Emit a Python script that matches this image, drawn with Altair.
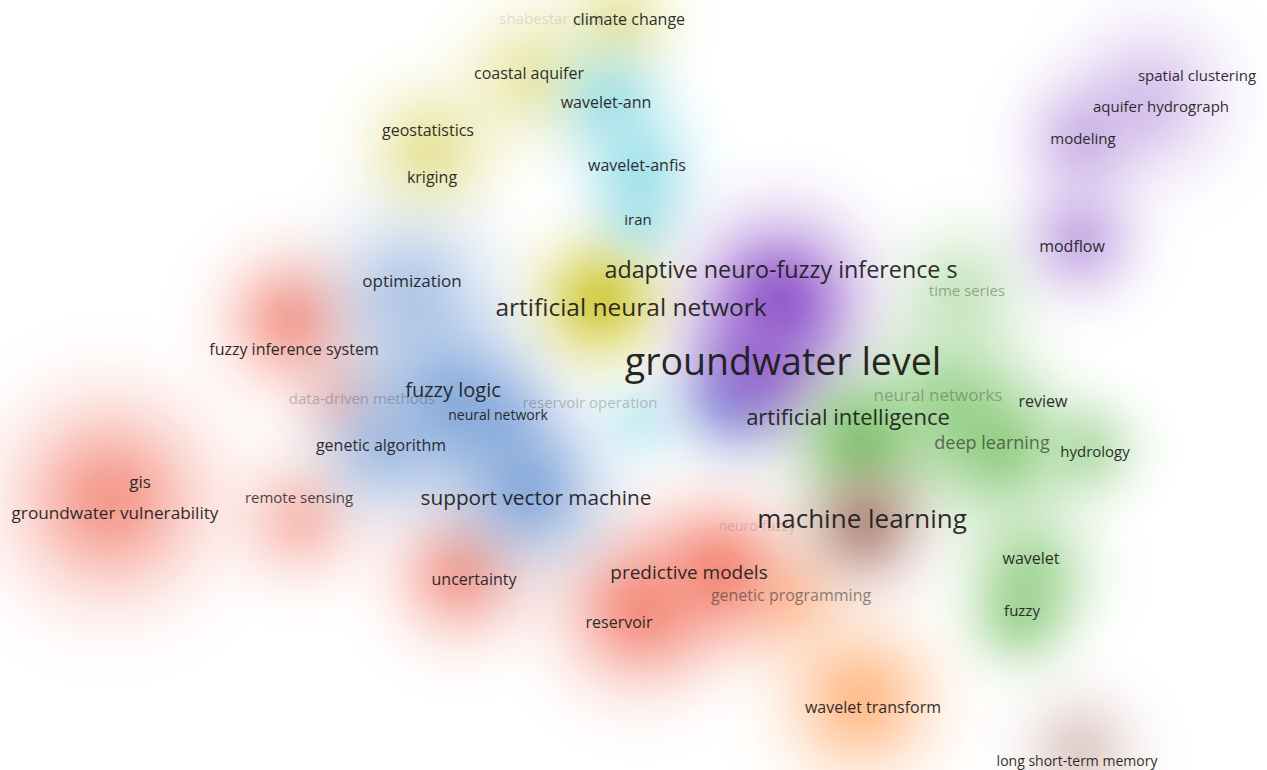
import altair as alt
import pandas as pd

W, H = 1267, 770

# ---- keyword labels ----
labels = ["shabestar plain", "climate change", "coastal aquifer", "wavelet-ann", "geostatistics",
          "kriging", "wavelet-anfis", "iran", "spatial clustering", "aquifer hydrograph",
          "modeling", "modflow", "adaptive neuro-fuzzy inference s", "time series", "optimization",
          "artificial neural network", "fuzzy inference system", "groundwater level", "fuzzy logic",
          "data-driven methods", "reservoir operation", "neural network", "neural networks", "review",
          "artificial intelligence", "deep learning", "hydrology", "genetic algorithm", "gis",
          "groundwater vulnerability", "remote sensing", "support vector machine", "neuro-fuzzy",
          "machine learning", "wavelet", "uncertainty", "predictive models", "genetic programming",
          "reservoir", "fuzzy", "wavelet transform", "long short-term memory"]
label_x = [553, 629, 529, 606, 428, 432, 637, 638, 1197, 1161, 1083, 1072, 781, 967, 412,
           631, 294, 783, 453, 362, 590, 498, 938, 1043, 848, 992, 1095, 381, 140,
           115, 299, 536, 757, 862, 1031, 474, 689, 791, 619, 1022, 873, 1077]
label_y = [19, 20, 74, 103, 131, 178, 166, 220, 76, 107, 139, 247, 271, 291, 282,
           309, 350, 364, 391, 399, 403, 416, 396, 402, 418, 444, 452, 446, 483,
           514, 498, 499, 527, 520, 559, 580, 573, 596, 623, 611, 708, 762]
label_size = [15, 16, 16, 16, 16, 16, 16, 15, 15, 15, 15, 16, 23.3, 15, 17,
              24.5, 16, 37.5, 20, 15, 15, 14, 17, 16, 22, 18, 15, 16, 17,
              17.2, 15, 20.8, 14, 26, 16, 16, 19, 16, 16, 15, 16, 14]
label_alpha = [0.12, 0.92, 0.92, 0.92, 0.92, 0.92, 0.92, 0.92, 0.92, 0.92, 0.92, 0.92, 0.92, 0.35, 0.92,
               0.92, 0.92, 0.95, 0.92, 0.25, 0.25, 0.92, 0.3, 0.92, 0.92, 0.6, 0.92, 0.92, 0.92,
               0.92, 0.8, 0.92, 0.15, 0.92, 0.92, 0.92, 0.92, 0.5, 0.92, 0.92, 0.92, 0.92]

# ---- density blobs ----
blob_cluster = ["red", "red", "red", "red", "red", "red", "red",
                "blue", "blue", "blue", "blue", "blue", "blue",
                "yellow", "yellow", "yellow", "yellow",
                "cyan", "cyan", "cyan", "cyan",
                "purple", "purple", "purple", "purple", "purple",
                "green", "green", "green", "green", "green", "green", "green",
                "brown", "brown",
                "orange", "orange"]
blob_x = [110, 290, 300, 460, 640, 720, 340,
          410, 450, 380, 530, 730, 500,
          600, 530, 620, 430,
          610, 640, 640, 640,
          780, 760, 1080, 1150, 1080,
          860, 950, 1000, 1090, 1030, 1020, 960,
          865, 1080,
          860, 790]
blob_y = [500, 320, 520, 575, 610, 570, 400,
          290, 400, 450, 490, 400, 420,
          300, 75, 20, 150,
          100, 170, 220, 420,
          300, 370, 240, 100, 140,
          440, 400, 450, 450, 570, 620, 290,
          525, 750,
          700, 600]
blob_r = [190, 130, 120, 130, 155, 140, 100,
          160, 170, 130, 150, 110, 110,
          125, 130, 110, 125,
          115, 115, 90, 90,
          160, 135, 115, 150, 115,
          135, 155, 140, 100, 125, 100, 125,
          120, 115,
          150, 115]
blob_w = [0.68, 0.62, 0.42, 0.6, 0.72, 0.72, 0.28,
          0.42, 0.6, 0.4, 0.65, 0.55, 0.35,
          0.88, 0.38, 0.38, 0.45,
          0.5, 0.5, 0.35, 0.3,
          0.92, 0.72, 0.45, 0.33, 0.35,
          0.75, 0.5, 0.6, 0.4, 0.5, 0.45, 0.32,
          0.65, 0.3,
          0.7, 0.45]

palette = {
    "red": (240, 105, 85),
    "blue": (85, 135, 205),
    "yellow": (205, 198, 45),
    "cyan": (100, 205, 222),
    "purple": (140, 80, 200),
    "green": (100, 185, 80),
    "brown": (155, 92, 80),
    "orange": (255, 160, 90),
}

blobs = pd.DataFrame({"cluster": blob_cluster, "x": blob_x, "y": blob_y,
                      "r": blob_r, "w": blob_w})
blobs["area"] = (2 * blobs["r"]) ** 2
texts = pd.DataFrame({"label": labels, "x": label_x, "y": label_y,
                      "fs": label_size, "a": label_alpha})

xs = alt.Scale(domain=[0, W])
ys = alt.Scale(domain=[0, H], reverse=True)


def grad(rgb):
    r, g, b = rgb
    stops = [(0.0, 1.0), (0.15, 0.88), (0.3, 0.62), (0.45, 0.36), (0.6, 0.17),
             (0.75, 0.06), (0.9, 0.015), (1.0, 0.0)]
    return {
        "gradient": "radial",
        "x1": 0.5, "y1": 0.5, "r1": 0,
        "x2": 0.5, "y2": 0.5, "r2": 0.5,
        "stops": [{"offset": o, "color": f"rgba({r},{g},{b},{a})"} for o, a in stops],
    }


layers = []
for name in ["orange", "red", "blue", "yellow", "cyan", "purple", "green", "brown"]:
    sub = blobs[blobs["cluster"] == name]
    layers.append(
        alt.Chart(sub).mark_circle(fill=grad(palette[name]), strokeWidth=0).encode(
            x=alt.X("x:Q", scale=xs, axis=None),
            y=alt.Y("y:Q", scale=ys, axis=None),
            size=alt.Size("area:Q", scale=None, legend=None),
            opacity=alt.Opacity("w:Q", scale=None, legend=None),
        )
    )

text_layer = alt.Chart(texts).mark_text(
    font="Open Sans", align="center", baseline="middle", color="#1c1c1c"
).encode(
    x=alt.X("x:Q", scale=xs, axis=None),
    y=alt.Y("y:Q", scale=ys, axis=None),
    text="label:N",
    size=alt.Size("fs:Q", scale=None, legend=None),
    opacity=alt.Opacity("a:Q", scale=None, legend=None),
)

chart = alt.layer(*layers, text_layer).properties(
    width=W, height=H, padding=0, autosize=alt.AutoSizeParams(type="none"),
    background="white",
).configure_view(stroke=None)

chart.save("out.html", embed_options={"renderer": "svg", "actions": False})
